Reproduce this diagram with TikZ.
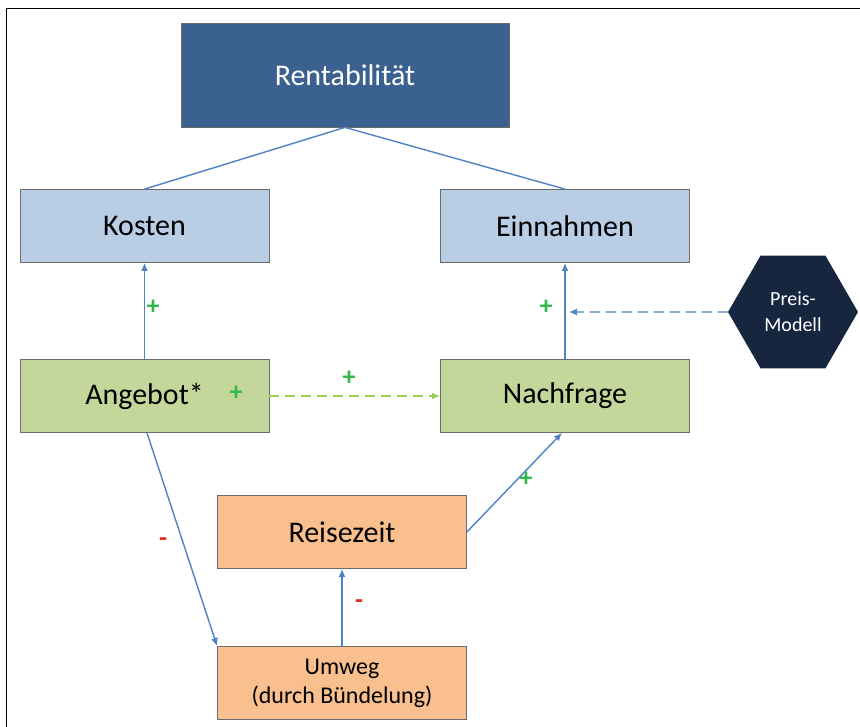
\documentclass[tikz,border=0pt]{standalone}
\usepackage{fontspec}
\setmainfont{Carlito}
\usepackage{tikz}
\usetikzlibrary{arrows,arrows.meta,shapes.geometric}

\definecolor{topblue}{HTML}{3A6190}
\definecolor{lightblue}{HTML}{B9CDE5}
\definecolor{lightgreen}{HTML}{C4D79B}
\definecolor{lightorange}{HTML}{F9BF8F}
\definecolor{navy}{HTML}{16263F}
\definecolor{linkblue}{HTML}{4F81C6}
\definecolor{dashgreen}{HTML}{9ACD5A}
\definecolor{plusgreen}{HTML}{2EB84B}
\definecolor{minusred}{HTML}{E0281E}
\definecolor{edgegray}{HTML}{6B6B6B}

\begin{document}
\begin{tikzpicture}[x=1pt,y=-1pt,
	every node/.style={inner sep=0pt,align=center},
	box/.style={draw=edgegray,line width=0.8pt,minimum width=249pt,minimum height=73pt,font=\fontsize{30}{34}\selectfont},
	link/.style={draw=linkblue,line width=1.4pt},
	tip/.style={-{Latex[length=8pt,width=7pt]}},
	sign/.style={font=\fontsize{26}{28}\selectfont\bfseries}]
	\useasboundingbox (0,0) rectangle (860,727);
	\draw[line width=1pt] (6,727) -- (6,9) -- (860,9);

	\node (rent) at (345,75) [box,fill=topblue,minimum width=328pt,minimum height=104pt,text=white] {Rentabilität};
	\node (kosten) at (144.5,226) [box,fill=lightblue] {Kosten};
	\node (einn) at (565,226) [box,fill=lightblue] {Einnahmen};
	\node (angebot) at (144.5,396) [box,fill=lightgreen] {Angebot*};
	\node (nachfr) at (565,396) [box,fill=lightgreen] {Nachfrage};
	\node (reise) at (342,532) [box,fill=lightorange] {Reisezeit};
	\node (umweg) at (342,683) [box,fill=lightorange,font=\fontsize{24}{29}\selectfont] {Umweg\\(durch Bündelung)};
	\node (preis) at (793,312) [regular polygon,regular polygon sides=6,minimum size=130pt,fill=navy,text=white,font=\fontsize{20}{26}\selectfont] {Preis-\\Modell};
	\coordinate (einnpoint) at (569,312);

	\draw[link] (rent.south) -- (kosten.north);
	\draw[link] (rent.south) -- (einn.north);
	\draw[link,tip] (angebot.north) -- (kosten.south);
	\draw[link,tip] (nachfr.north) -- (einn.south);
	\draw[link,dash pattern=on 10pt off 6pt,tip] (preis.west) -- (einnpoint);
	\draw[draw=dashgreen,line width=1.4pt,dash pattern=on 10pt off 6pt,tip] (angebot.east) -- (nachfr.west);
	\draw[link,tip] ([xshift=2.5pt]angebot.south) -- (umweg.north west);
	\draw[link,tip] (umweg.north) -- (reise.south);
	\draw[link,tip] (reise.east) -- ([xshift=-3pt]nachfr.south);

	\node[sign,text=plusgreen] (p1) at (153,307) {+};
	\node[sign,text=plusgreen] (p2) at (546,307) {+};
	\node[sign,text=plusgreen] (p3) at (236,393) {+};
	\node[sign,text=plusgreen] (p4) at (349,378) {+};
	\node[sign,text=plusgreen] (p5) at (526,479) {+};
	\node[sign,text=minusred] (m1) at (163,542) {-};
	\node[sign,text=minusred] (m2) at (359,604) {-};
\end{tikzpicture}
\end{document}
